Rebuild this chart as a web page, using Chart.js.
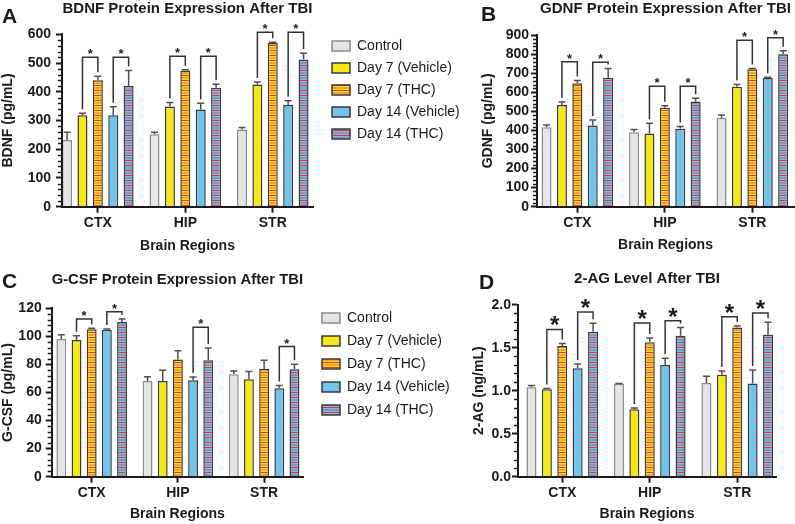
<!DOCTYPE html>
<html>
<head>
<meta charset="utf-8">
<script src="https://cdn.jsdelivr.net/npm/chart.js@4.4.1/dist/chart.umd.min.js"></script>
<style>
  html, body { margin: 0; padding: 0; background: #fff; }
  #wrap { position: relative; width: 795px; height: 524px; overflow: hidden; font-family: Arial, "Liberation Sans", Helvetica, sans-serif; }
  #wrap canvas { position: absolute; }
  .panel-letter { position: absolute; font-weight: bold; font-size: 21px; line-height: 21px; color: #1a1a1a; }
</style>
</head>
<body>
<div id="wrap">
  <canvas id="chart-a" width="470" height="262" style="left:0;top:0"></canvas>
  <canvas id="chart-b" width="325" height="262" style="left:470px;top:0"></canvas>
  <canvas id="chart-c" width="460" height="262" style="left:0;top:262px"></canvas>
  <canvas id="chart-d" width="325" height="262" style="left:470px;top:262px"></canvas>
  <div class="panel-letter" style="left:2px;top:5px">A</div>
  <div class="panel-letter" style="left:481px;top:3px">B</div>
  <div class="panel-letter" style="left:2px;top:270px">C</div>
  <div class="panel-letter" style="left:479px;top:271px">D</div>
</div>
<script>
// Regiones y grupos
const regions = ['CTX', 'HIP', 'STR'];
const groups = ['Control', 'Day 7 (Vehicle)', 'Day 7 (THC)', 'Day 14 (Vehicle)', 'Day 14 (THC)'];

// BDNF (pg/mL): una fila por grupo, columnas CTX, HIP, STR
const bdnfMeans = [
  [232, 252, 269],
  [318, 349, 425],
  [440, 474, 570],
  [318, 338, 354],
  [421, 414, 512]
];
const bdnfErrors = [
  [27, 7, 7],
  [7, 14, 9],
  [14, 3, 2],
  [30, 22, 15],
  [53, 12, 22]
];
// [region, grupo izq., grupo der., altura del corchete]
const bdnfBrackets = [[0, 1, 2, 520], [0, 3, 4, 520], [1, 1, 2, 524], [1, 3, 4, 524], [2, 1, 2, 607], [2, 3, 4, 607]];
const bdnfAxis = [600, 100, 20]; // max, paso, paso menor

// GDNF (pg/mL)
const gdnfMeans = [
  [416, 390, 465],
  [533, 384, 629],
  [647, 519, 720],
  [426, 409, 675],
  [676, 552, 799]
];
const gdnfErrors = [
  [12, 15, 16],
  [16, 53, 12],
  [14, 10, 5],
  [28, 11, 3],
  [48, 16, 19]
];
const gdnfBrackets = [[0, 1, 2, 760], [0, 3, 4, 757], [1, 1, 2, 631], [1, 3, 4, 631], [2, 1, 2, 872], [2, 3, 4, 885]];
const gdnfAxis = [900, 100, 20];

// G-CSF (pg/mL)
const gcsfMeans = [
  [98.1, 68.2, 73.0],
  [97.4, 68.2, 69.4],
  [105.0, 83.6, 76.8],
  [104.7, 68.7, 63.0],
  [110.3, 82.9, 76.5]
];
const gcsfErrors = [
  [3.1, 3.1, 2.3],
  [3.1, 7.6, 5.5],
  [0.7, 6.2, 6.1],
  [0.6, 2.3, 1.9],
  [2.1, 8.8, 3.6]
];
const gcsfBrackets = [[0, 1, 2, 112.4], [0, 3, 4, 117.6], [1, 3, 4, 106.5], [2, 3, 4, 92.7]];
const gcsfAxis = [120, 20, 4];

// 2-AG (ng/mL)
const twoAgMeans = [
  [1.04, 1.08, 1.09],
  [1.016, 0.785, 1.186],
  [1.519, 1.562, 1.736],
  [1.26, 1.298, 1.085],
  [1.686, 1.64, 1.651]
];
const twoAgErrors = [
  [0.02, 0.005, 0.077],
  [0.011, 0.015, 0.043],
  [0.031, 0.05, 0.016],
  [0.05, 0.078, 0.155],
  [0.097, 0.096, 0.144]
];
const twoAgBrackets = [[0, 1, 2, 1.713], [0, 3, 4, 1.915], [1, 1, 2, 1.788], [1, 3, 4, 1.814], [2, 1, 2, 1.86], [2, 3, 4, 1.903]];
const twoAgAxis = [2, 0.5, 0.1];

const ink = '#1a1a1a';
const fontFamily = 'Arial, "Liberation Sans", Helvetica, sans-serif';
Chart.defaults.font.family = fontFamily;
Chart.defaults.color = ink;

// Rayado horizontal para los grupos con THC
function stripes(rows) {
  const tile = document.createElement('canvas');
  tile.width = 4;
  tile.height = rows.length;
  const tctx = tile.getContext('2d');
  rows.forEach((c, i) => {
    tctx.fillStyle = c;
    tctx.fillRect(0, i, 4, 1);
  });
  return document.createElement('canvas').getContext('2d').createPattern(tile, 'repeat');
}

const fills = [
  '#e5e5e5',
  '#f4e916',
  stripes(['#e5352c', '#f7e31c', '#f3a52a', '#f3a52a', '#f7e31c']),
  '#74c3ea',
  stripes(['#e0343c', '#76c1e8', '#8e90b8', '#8e90b8', '#76c1e8'])
];
const borders = ['#8a8a8a', '#3a3a3a', '#3a3a3a', '#3a3a3a', '#3a3a3a'];

// Barras de error, corchetes con asterisco y marcas menores del eje Y
function overlay(p) {
  return {
    id: 'overlay',
    afterInit(chart) {
      // la leyenda de Chart.js limita su ancho; aquí se fija el ancho deseado
      if (!p.legend || !chart.legend) return;
      const legend = chart.legend;
      const fit = legend.fit;
      legend.fit = function() {
        fit.call(this);
        if (this.options.display) this.width = p.legend.width;
      };
    },
    afterDatasetsDraw(chart) {
      const ctx = chart.ctx;
      const y = chart.scales.y;
      const barX = (g, r) => chart.getDatasetMeta(g).data[r].x;
      const topOf = (g, r) => y.getPixelForValue(p.means[g][r] + p.errors[g][r]);
      ctx.save();
      ctx.strokeStyle = '#505050';
      ctx.lineWidth = 1.5;
      p.means.forEach((row, g) => row.forEach((v, r) => {
        const x = barX(g, r);
        const y1 = topOf(g, r);
        ctx.beginPath();
        ctx.moveTo(x, y.getPixelForValue(v));
        ctx.lineTo(x, y1);
        ctx.moveTo(x - 3.5, y1);
        ctx.lineTo(x + 3.5, y1);
        ctx.stroke();
      }));

      ctx.strokeStyle = '#333';
      ctx.fillStyle = ink;
      ctx.font = 'bold ' + p.star[0] + 'px ' + fontFamily;
      ctx.textAlign = 'center';
      ctx.textBaseline = 'alphabetic';
      p.brackets.forEach(([r, a, b, v]) => {
        const xa = barX(a, r);
        const xb = barX(b, r);
        const yt = y.getPixelForValue(v);
        ctx.beginPath();
        ctx.moveTo(xa, topOf(a, r) - 4);
        ctx.lineTo(xa, yt);
        ctx.lineTo(xb, yt);
        ctx.lineTo(xb, topOf(b, r) - 4);
        ctx.stroke();
        ctx.fillText('*', (xa + xb) / 2, yt + p.star[1]);
      });
      ctx.restore();
    },
    afterDraw(chart) {
      const ctx = chart.ctx;
      const y = chart.scales.y;
      const left = chart.chartArea.left;
      const [max, step, minor] = p.axis;
      ctx.save();
      ctx.strokeStyle = ink;
      ctx.lineWidth = 1.5;
      for (let i = 0; i * minor <= max + 1e-9; i++) {
        const v = i * minor;
        const k = v / step;
        if (Math.abs(k - Math.round(k)) < 1e-6) continue;
        const py = Math.round(y.getPixelForValue(v)) + 0.5;
        ctx.beginPath();
        ctx.moveTo(left - 4, py);
        ctx.lineTo(left, py);
        ctx.stroke();
      }
      ctx.restore();
    }
  };
}

function buildChart(id, p) {
  const datasets = groups.map((g, i) => ({
    label: g,
    data: p.means[i].map((v, j) => ({ x: j, y: v })),
    backgroundColor: fills[i],
    borderColor: borders[i],
    borderWidth: 1.5
  }));

  const scales = {
    x: {
      type: 'linear',
      min: p.xRange[0],
      max: p.xRange[1],
      offset: false,
      bounds: 'data',
      afterBuildTicks: s => { s.ticks = regions.map((r, i) => ({ value: i })); },
      afterFit: s => { s.height = p.xHeight; },
      ticks: {
        callback: v => regions[v],
        autoSkip: false,
        maxRotation: 0,
        padding: 2,
        font: { size: 14, weight: 'bold' },
        color: ink
      },
      grid: { display: true, drawOnChartArea: false, offset: false, tickLength: 6, tickWidth: 2, tickColor: ink },
      border: { color: ink, width: 2, z: 1 },
      title: {
        display: true,
        text: 'Brain Regions',
        font: { size: 14, weight: 'bold' },
        color: ink,
        padding: { top: 0, bottom: p.xTitlePad }
      }
    },
    y: {
      min: 0,
      max: p.axis[0],
      afterFit: s => { s.width = p.yWidth; },
      ticks: {
        stepSize: p.axis[1],
        autoSkip: false,
        padding: p.yTickPad,
        font: { size: 14, weight: 'bold' },
        color: ink,
        callback: p.yFormat || (v => v)
      },
      grid: { display: true, drawOnChartArea: false, tickLength: 6, tickWidth: 2, tickColor: ink },
      border: { color: ink, width: 2, z: 1 },
      title: {
        display: true,
        text: p.yTitle,
        font: { size: 14, weight: 'bold' },
        color: ink,
        padding: { top: p.yTitlePad, bottom: 0 }
      }
    }
  };

  if (p.legend) {
    // separación entre el área del gráfico y la leyenda
    scales.gap = {
      type: 'linear',
      position: 'right',
      display: true,
      grid: { display: false },
      border: { display: false },
      ticks: { display: false },
      afterFit: s => { s.width = p.legend.gap; }
    };
  }

  return new Chart(document.getElementById(id), {
    type: 'bar',
    data: { datasets },
    options: {
      responsive: false,
      animation: false,
      datasets: { bar: { categoryPercentage: 0.88, barPercentage: 0.65 } },
      layout: { padding: { left: 0, top: 0, right: p.padRight, bottom: 0 } },
      plugins: {
        title: {
          display: true,
          text: p.title,
          fullSize: false,
          font: { size: 15, weight: 'bold' },
          color: ink,
          padding: { top: p.titlePad[0], bottom: p.titlePad[1] }
        },
        legend: p.legend ? {
          display: true,
          position: 'right',
          align: 'start',
          title: { display: true, text: ' ', font: { size: 10 }, padding: { top: p.legend.top, bottom: 0 } },
          labels: { boxWidth: 18, boxHeight: 10, padding: p.legend.spacing, font: { size: 14 }, color: ink }
        } : { display: false },
        tooltip: { enabled: false }
      },
      scales
    },
    plugins: [overlay(p)]
  });
}

buildChart('chart-a', {
  title: 'BDNF Protein Expression After TBI',
  yTitle: 'BDNF (pg/mL)',
  means: bdnfMeans, errors: bdnfErrors, brackets: bdnfBrackets, axis: bdnfAxis,
  xRange: [-0.41, 2.46], xHeight: 55.3, xTitlePad: 7,
  yWidth: 62, yTickPad: 5, yTitlePad: 0,
  titlePad: [0, 16.3], padRight: 0,
  star: [13, 1],
  legend: { gap: 11, width: 146, top: 19, spacing: 8 }
});

buildChart('chart-b', {
  title: 'GDNF Protein Expression After TBI',
  yTitle: 'GDNF (pg/mL)',
  means: gdnfMeans, errors: gdnfErrors, brackets: gdnfBrackets, axis: gdnfAxis,
  xRange: [-0.461, 2.476], xHeight: 55.3, xTitlePad: 8,
  yWidth: 67, yTickPad: 2, yTitlePad: 10,
  titlePad: [0, 17], padRight: 1,
  star: [13, 1]
});

buildChart('chart-c', {
  title: 'G-CSF Protein Expression After TBI',
  yTitle: 'G-CSF (pg/mL)',
  means: gcsfMeans, errors: gcsfErrors, brackets: gcsfBrackets, axis: gcsfAxis,
  xRange: [-0.464, 2.451], xHeight: 47.3, xTitlePad: 1,
  yWidth: 51.7, yTickPad: 4, yTitlePad: 0,
  titlePad: [9, 19.3], padRight: 0,
  star: [13, 1],
  legend: { gap: 10, width: 147, top: 28, spacing: 9 }
});

buildChart('chart-d', {
  title: '2-AG Level After TBI',
  yTitle: '2-AG (ng/mL)',
  means: twoAgMeans, errors: twoAgErrors, brackets: twoAgBrackets, axis: twoAgAxis,
  xRange: [-0.506, 2.443], xHeight: 47.3, xTitlePad: 1,
  yWidth: 48, yTickPad: 1, yTitlePad: 1,
  titlePad: [8, 16.7], padRight: 19,
  star: [24, 4],
  yFormat: v => v.toFixed(1)
});
</script>
</body>
</html>
